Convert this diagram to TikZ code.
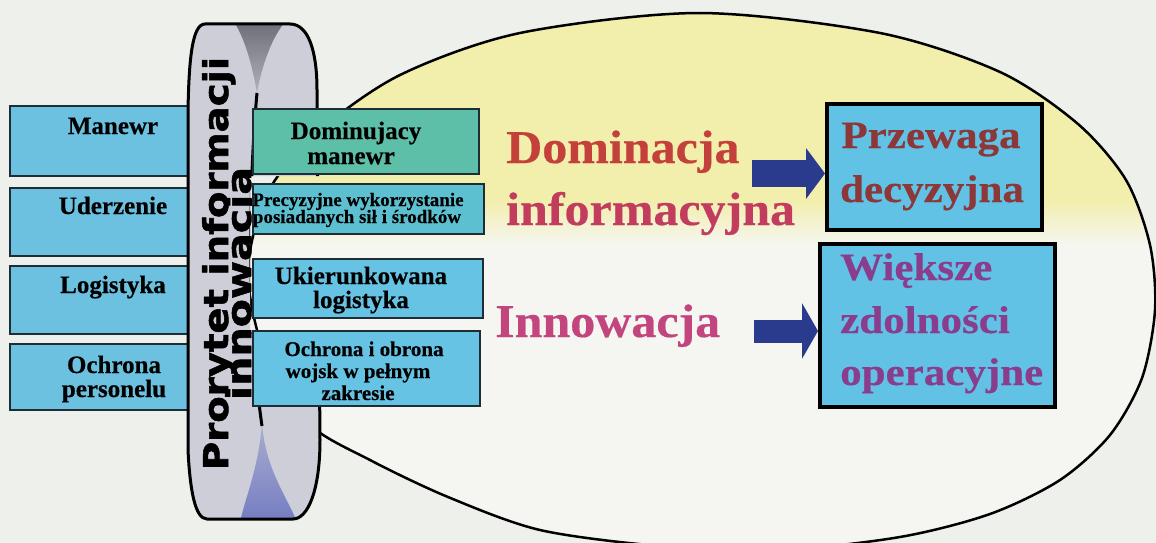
\documentclass[tikz,border=0pt]{standalone}
\usepackage{fontspec}
\setmainfont{Liberation Serif}[BoldFeatures={FakeBold=0.4}]
\newfontfamily\ringfont{DejaVu Sans}[BoldFeatures={FakeBold=1.5}]
\usetikzlibrary{arrows.meta}
\definecolor{bgc}{HTML}{EEF0EC}
\definecolor{ellw}{HTML}{F5F6F1}
\definecolor{elly}{HTML}{F2EEAC}
\definecolor{lblue}{HTML}{6CC1E1}
\definecolor{tealA}{HTML}{5DBFA8}
\definecolor{tealB}{HTML}{5CC0D0}
\definecolor{rblue}{HTML}{66C3E3}
\definecolor{bigblue}{HTML}{62C2E6}
\definecolor{ringg}{HTML}{CDCED7}
\definecolor{ringdark}{HTML}{6E6E78}
\definecolor{ringblue}{HTML}{747CC2}
\definecolor{arrblue}{HTML}{2A3A8C}
\definecolor{tred}{HTML}{C4403A}
\definecolor{tcrim}{HTML}{C23C5E}
\definecolor{tpink}{HTML}{C2457E}
\definecolor{tbrown}{HTML}{8C3838}
\definecolor{tpurp}{HTML}{8A3D8C}
\definecolor{boxline}{HTML}{1E2C36}
\def\ellpath{plot[smooth cycle] coordinates {(699,13) (880,33) (1000,72) (1078,124) (1126,180) (1150,245) (1155,310) (1142,378) (1110,435) (1060,480) (990,514) (900,537) (780,550) (660,546) (540,530) (448,497) (370,460) (308,423) (264,352) (248,270) (268,192) (318,132) (400,75) (520,33)}}
\newcommand\myellfill{%
  \fill[ellw] (0,0) rectangle (1156,543);
  \fill[elly] (0,0) rectangle (1156,200);
  \shade[top color=elly, bottom color=ellw] (0,200) rectangle (1156,245);}
\begin{document}
\begin{tikzpicture}[x=1pt,y=-1pt,
  sbox/.style={draw=boxline, line width=2pt, inner sep=0pt, anchor=north west},
  bbox/.style={draw=black, line width=4pt, fill=bigblue, inner sep=0pt, anchor=north west},
  btx/.style={font=\fontsize{25}{25}\selectfont\bfseries, text=black, anchor=base, inner sep=0pt},
  stx/.style={font=\fontsize{19}{19}\selectfont\bfseries, text=black, anchor=base, inner sep=0pt},
  mtx/.style={font=\fontsize{21}{21}\selectfont\bfseries, text=black, anchor=base, inner sep=0pt},
  bigtx/.style={font=\fontsize{50}{50}\selectfont\bfseries, anchor=base west, inner sep=0pt},
  boxtx/.style={font=\fontsize{43}{43}\selectfont\bfseries, inner sep=0pt},
  ringtx/.style={font=\ringfont\bfseries\fontsize{34}{34}\selectfont, text=black, rotate=90, anchor=base, inner sep=0pt},
  blockarrow/.style={draw=arrblue}
]
\useasboundingbox (0,0) rectangle (1156,543);
\fill[bgc] (0,0) rectangle (1156,543);
% ellipse
\begin{scope}
  \clip \ellpath;
  \myellfill
\end{scope}
\draw[line width=2.5pt, black] \ellpath;

% left boxes
\node[sbox, fill=lblue, minimum width=191pt, minimum height=70pt] (manewr) at (9,105) {};
\node[sbox, fill=lblue, minimum width=191pt, minimum height=68pt] (uderz) at (9,187) {};
\node[sbox, fill=lblue, minimum width=191pt, minimum height=68pt] (logist) at (9,265) {};
\node[sbox, fill=lblue, minimum width=191pt, minimum height=66pt] (ochrp) at (9,343) {};
\node[btx] (tmanewr) at (113,134) {Manewr};
\node[btx] (tuderz) at (113,214) {Uderzenie};
\node[btx] (tlogist) at (113,293) {Logistyka};
\node[btx] (tochr1) at (114,373) {Ochrona};
\node[btx] (tochr2) at (114,397) {personelu};

% ring
\def\ringpath{(205,24) -- (290,24) .. controls (308,24) and (317,50) .. (317,90) -- (320,440) .. controls (320,490) and (308,519) .. (293,519) -- (207,519) .. controls (195,519) and (190,490) .. (188,450) -- (188,110) .. controls (189,60) and (192,24) .. (205,24) -- cycle}
\begin{scope}
  \clip (0,0) rectangle (1156,176) (0,176) rectangle (250,332) (340,176) rectangle (1156,332) (0,332) rectangle (1156,543);
  \fill[ringg] \ringpath;
  \begin{scope}
    \clip \ringpath;
    \shade[top color=ringdark, bottom color=ringg!70!ringdark] (234,22) .. controls (246,40) and (253,70) .. (257,93) .. controls (261,70) and (270,40) .. (285,22) -- cycle;
    \shade[top color=ringg!60!ringblue, bottom color=ringblue] (262,424) .. controls (258,470) and (246,495) .. (240,522) -- (297,522) .. controls (286,495) and (266,470) .. (262,424) -- cycle;
  \end{scope}
  \draw[line width=3pt, black] (257,93) .. controls (248,190) and (248,330) .. (262,426);
  \draw[line width=3pt, black] \ringpath;
\end{scope}
\node[ringtx] (ring1) at (228,263.5) {\scalebox{1.135}[1]{Prorytet informacji}};
\node[ringtx] (ring2) at (251,283.5) {\scalebox{1.21}[1]{innowacja}};

% right boxes
\node[sbox, fill=tealA, minimum width=226pt, minimum height=65pt] (domman) at (252,108) {};
\node[sbox, fill=tealB, minimum width=231pt, minimum height=50pt] (precyz) at (252,183) {};
\node[sbox, fill=rblue, minimum width=230pt, minimum height=59pt] (ukier) at (252,258) {};
\node[sbox, fill=rblue, minimum width=227pt, minimum height=75pt] (ochrw) at (252,330) {};
\node[btx] (tdom1) at (356,139) {Dominujacy};
\node[btx] (tdom2) at (351,164) {manewr};
\node[stx] (tpre1) at (358,206) {Precyzyjne wykorzystanie};
\node[stx] (tpre2) at (357,223) {posiadanych sił i środków};
\node[btx] (tuk1) at (361,284) {Ukierunkowana};
\node[btx] (tuk2) at (361,308) {logistyka};
\node[mtx] (tow1) at (364,356) {Ochrona i obrona};
\node[mtx] (tow2) at (358,378) {wojsk w pełnym};
\node[mtx] (tow3) at (358,400) {zakresie};

% middle texts
\node[bigtx, text=tred] (dom) at (506,163) {\scalebox{1}[0.94]{Dominacja}};
\node[bigtx, text=tcrim] (info) at (506,225) {\scalebox{1}[0.94]{informacyjna}};
\node[bigtx, text=tpink] (innow) at (495,337) {\scalebox{1}[0.94]{Innowacja}};

% big boxes
\node[bbox, minimum width=215pt, minimum height=126pt] (przew) at (825,102) {};
\node[bbox, minimum width=235pt, minimum height=163pt] (wieksze) at (818,242) {};
\node[boxtx, text=tbrown, anchor=base] (tprz1) at (931,148) {\scalebox{1}[0.9]{Przewaga}};
\node[boxtx, text=tbrown, anchor=base] (tprz2) at (932,202) {\scalebox{1}[0.9]{decyzyjna}};
\node[boxtx, text=tpurp, anchor=base west] (twi1) at (840,280) {\scalebox{1}[0.9]{Większe}};
\node[boxtx, text=tpurp, anchor=base west] (twi2) at (840,333) {\scalebox{1}[0.9]{zdolności}};
\node[boxtx, text=tpurp, anchor=base west] (twi3) at (840,385) {\scalebox{1}[0.9]{operacyjne}};

% arrows
\coordinate (a1s) at (752,173.5);
\coordinate (a2s) at (754,331);
\draw[blockarrow, line width=27pt, -{Triangle[length=19pt,width=50pt]}] (a1s) -- (a1s -| przew.west);
\draw[blockarrow, line width=23pt, -{Triangle[length=16pt,width=55pt]}] (a2s) -- (a2s -| wieksze.west);
\end{tikzpicture}
\end{document}
